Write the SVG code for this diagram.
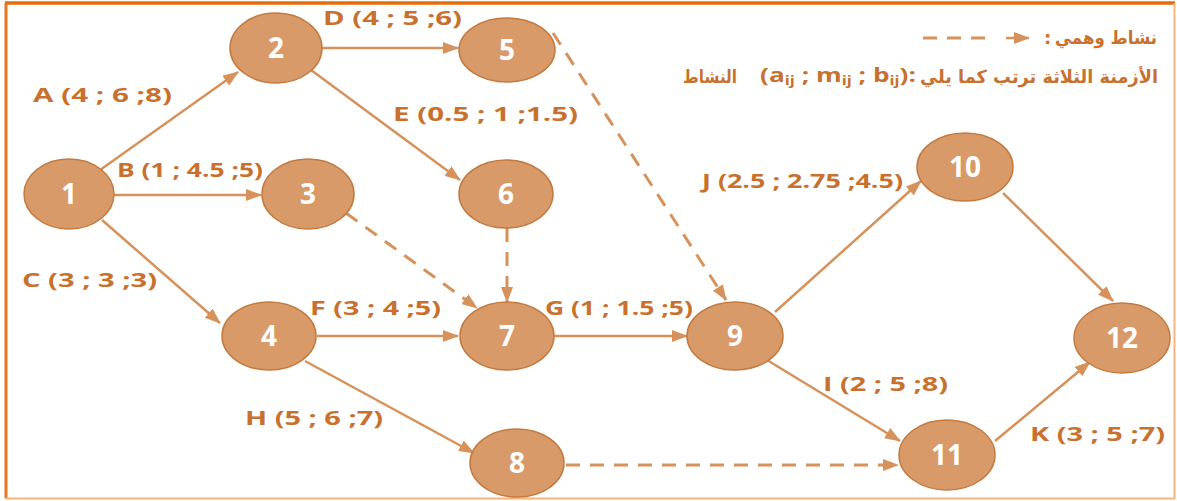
<svg xmlns="http://www.w3.org/2000/svg" width="1177" height="501" viewBox="0 0 1177 501">
<defs>
<marker id="ah" markerWidth="16" markerHeight="12" refX="15" refY="6" orient="auto" markerUnits="userSpaceOnUse">
<path d="M0,0 L16,6 L0,12 Z" fill="#D6925A"/>
</marker>
</defs>
<style>
.e{stroke:#D6925A;stroke-width:2.5;fill:none}
.d{stroke:#D6925A;stroke-width:3;fill:none;stroke-dasharray:14 10}
.n ellipse{fill:#D89A68;stroke:#C47A3E;stroke-width:1.5}
.n text{fill:#FFFFFF;font-family:"Open Sans","DejaVu Sans",sans-serif;font-weight:bold;font-size:28px;text-anchor:middle}
.l{fill:#C8712E;font-family:"Open Sans","DejaVu Sans",sans-serif;font-weight:bold;font-size:19px}
.ar{fill:#C8712E;font-family:"DejaVu Sans",sans-serif;font-weight:bold;font-size:18px}
.sub{font-size:12px}
</style>
<rect x="0" y="0" width="1177" height="501" fill="#FFFFFF"/>
<g id="frame">
<line x1="5" y1="3" x2="1175" y2="3" stroke="#E46C0A" stroke-width="3.5"/>
<line x1="6" y1="3" x2="6" y2="498" stroke="#E8761F" stroke-width="3"/>
<line x1="5" y1="498.5" x2="1175" y2="498.5" stroke="#F6B47F" stroke-width="2"/>
<line x1="1174.5" y1="3" x2="1174.5" y2="499" stroke="#F6B47F" stroke-width="2"/>
</g>
<g id="connectors">
<line class="e" x1="100" y1="170" x2="238" y2="72" marker-end="url(#ah)"/>
<line class="e" x1="113" y1="195" x2="261" y2="195" marker-end="url(#ah)"/>
<line class="e" x1="102" y1="220" x2="220" y2="323" marker-end="url(#ah)"/>
<line class="e" x1="322" y1="48" x2="458" y2="48" marker-end="url(#ah)"/>
<line class="e" x1="311" y1="70" x2="460" y2="180" marker-end="url(#ah)"/>
<line class="d" x1="553" y1="33" x2="726" y2="300" marker-end="url(#ah)"/>
<line class="d" x1="346" y1="213" x2="477" y2="308" marker-end="url(#ah)"/>
<line class="d" x1="507" y1="228" x2="507" y2="302" marker-end="url(#ah)"/>
<line class="e" x1="317" y1="336" x2="458" y2="336" marker-end="url(#ah)"/>
<line class="e" x1="554" y1="336" x2="687" y2="336" marker-end="url(#ah)"/>
<line class="e" x1="305" y1="361" x2="474" y2="453" marker-end="url(#ah)"/>
<line class="e" x1="775" y1="312" x2="921" y2="181" marker-end="url(#ah)"/>
<line class="e" x1="767" y1="360" x2="900" y2="441" marker-end="url(#ah)"/>
<line class="d" x1="566" y1="465" x2="898" y2="465" marker-end="url(#ah)"/>
<line class="e" x1="1003" y1="193" x2="1113" y2="301" marker-end="url(#ah)"/>
<line class="e" x1="995" y1="441" x2="1090" y2="362" marker-end="url(#ah)"/>
<line class="d" x1="923" y1="38" x2="991" y2="38" stroke-width="4" stroke-dasharray="25 19"/>
<line class="e" x1="1006" y1="38" x2="1029" y2="38" stroke-width="4" marker-end="url(#ah)"/>
</g>
<g id="n1" class="n"><ellipse cx="69" cy="194" rx="45" ry="35"/><text x="69" y="204">1</text></g>
<g id="n2" class="n"><ellipse cx="276" cy="48" rx="46" ry="35"/><text x="276" y="58">2</text></g>
<g id="n3" class="n"><ellipse cx="308" cy="194" rx="46" ry="35"/><text x="308" y="204">3</text></g>
<g id="n4" class="n"><ellipse cx="269" cy="336" rx="47" ry="34"/><text x="269" y="346">4</text></g>
<g id="n5" class="n"><ellipse cx="507" cy="50" rx="48" ry="32"/><text x="507" y="60">5</text></g>
<g id="n6" class="n"><ellipse cx="506" cy="194" rx="47" ry="34"/><text x="506" y="204">6</text></g>
<g id="n7" class="n"><ellipse cx="507" cy="336" rx="47" ry="34"/><text x="507" y="346">7</text></g>
<g id="n8" class="n"><ellipse cx="517" cy="463" rx="47" ry="34"/><text x="517" y="473">8</text></g>
<g id="n9" class="n"><ellipse cx="735" cy="336" rx="48" ry="34"/><text x="735" y="346">9</text></g>
<g id="n10" class="n"><ellipse cx="965" cy="167" rx="48" ry="34"/><text x="965" y="177">10</text></g>
<g id="n11" class="n"><ellipse cx="947" cy="455" rx="48" ry="35"/><text x="947" y="465">11</text></g>
<g id="n12" class="n"><ellipse cx="1122" cy="338" rx="48" ry="35"/><text x="1122" y="348">12</text></g>
<g id="labels">
<text class="l" x="33" y="102" textLength="139" lengthAdjust="spacingAndGlyphs">A (4 ; 6 ;8)</text>
<text class="l" x="117" y="177" textLength="146" lengthAdjust="spacingAndGlyphs">B (1 ; 4.5 ;5)</text>
<text class="l" x="22" y="287" textLength="135" lengthAdjust="spacingAndGlyphs">C (3 ; 3 ;3)</text>
<text class="l" x="323" y="25" textLength="139" lengthAdjust="spacingAndGlyphs">D (4 ; 5 ;6)</text>
<text class="l" x="393" y="121" textLength="185" lengthAdjust="spacingAndGlyphs">E (0.5 ; 1 ;1.5)</text>
<text class="l" x="310" y="315" textLength="131" lengthAdjust="spacingAndGlyphs">F (3 ; 4 ;5)</text>
<text class="l" x="545" y="315" textLength="148" lengthAdjust="spacingAndGlyphs">G (1 ; 1.5 ;5)</text>
<text class="l" x="245" y="425" textLength="138" lengthAdjust="spacingAndGlyphs">H (5 ; 6 ;7)</text>
<text class="l" x="823" y="391" textLength="125" lengthAdjust="spacingAndGlyphs">I (2 ; 5 ;8)</text>
<text class="l" x="702" y="188" textLength="201" lengthAdjust="spacingAndGlyphs">J (2.5 ; 2.75 ;4.5)</text>
<text class="l" x="1030" y="441" textLength="135" lengthAdjust="spacingAndGlyphs">K (3 ; 5 ;7)</text>
</g>
<g id="legend">
<text class="ar" x="1157" y="44" text-anchor="end" textLength="102" lengthAdjust="spacingAndGlyphs">نشاط وهمي</text>
<text class="ar" x="1044" y="44">:</text>
<text class="ar" x="1158" y="83" text-anchor="end" textLength="238" lengthAdjust="spacingAndGlyphs">الأزمنة الثلاثة ترتب كما يلي</text>
<text class="l" x="760" y="82" textLength="156" lengthAdjust="spacingAndGlyphs">(a<tspan class="sub" dy="3">ij</tspan><tspan dy="-3"> ; m</tspan><tspan class="sub" dy="3">ij</tspan><tspan dy="-3"> ; b</tspan><tspan class="sub" dy="3">ij</tspan><tspan dy="-3">):</tspan></text>
<text class="ar" x="737" y="83" text-anchor="end" textLength="54" lengthAdjust="spacingAndGlyphs">النشاط</text>
</g>
</svg>
